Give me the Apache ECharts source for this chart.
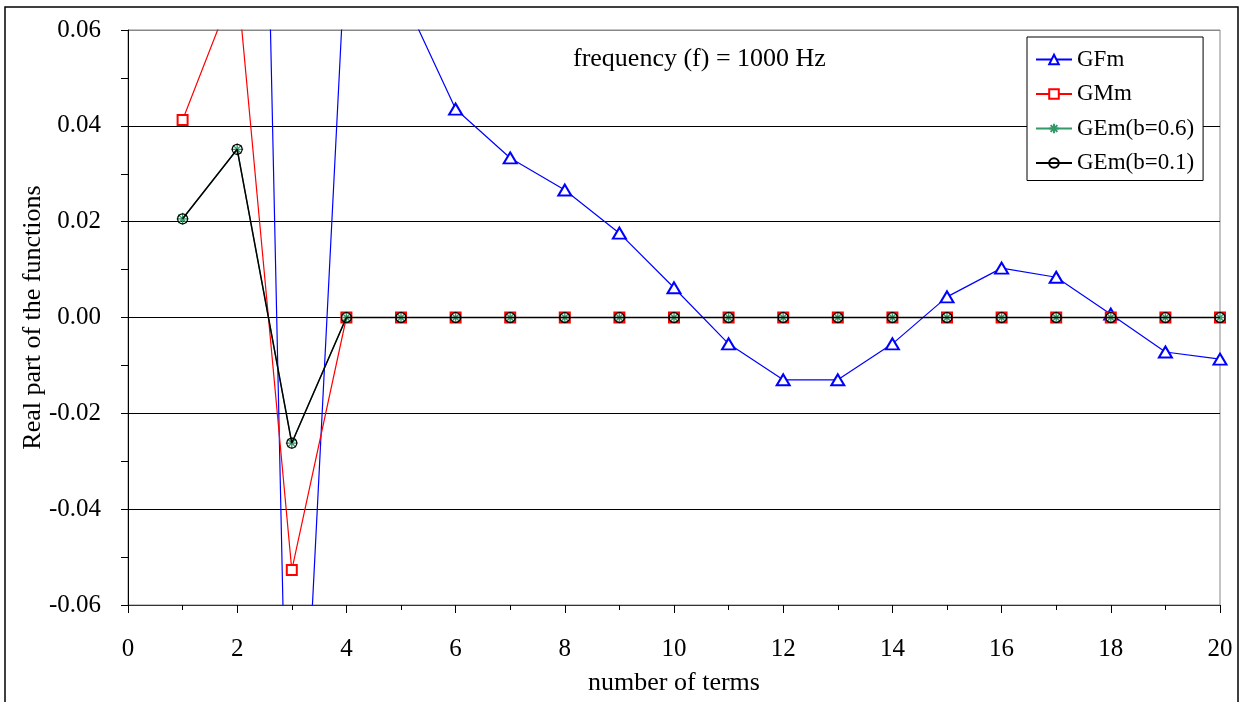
<!DOCTYPE html>
<html>
<head>
<meta charset="utf-8">
<script src="https://cdn.jsdelivr.net/npm/echarts@6/dist/echarts.min.js"></script>
<style>html,body{margin:0;padding:0;background:#fff}#c{width:1247px;height:702px}</style>
</head>
<body>
<div id="c"></div>
<script>
var terms = [1,2,3,4,5,6,7,8,9,10,11,12,13,14,15,16,17,18,19,20];
var GFm = [0.15,0.38,-0.145,0.08,0.068,0.0435,0.0333,0.0266,0.0176,0.0062,-0.0055,-0.0130,-0.0130,-0.0055,0.0043,0.0103,0.0084,0.0007,-0.0072,-0.0087];
var GMm = [0.0412,0.0705,-0.0527,0,0,0,0,0,0,0,0,0,0,0,0,0,0,0,0,0];
var GEm06 = [0.0206,0.0351,-0.0262,0,0,0,0,0,0,0,0,0,0,0,0,0,0,0,0,0];
var GEm01 = [0.0206,0.0351,-0.0262,0,0,0,0,0,0,0,0,0,0,0,0,0,0,0,0,0];
var seriesNames = ['GFm','GMm','GEm(b=0.6)','GEm(b=0.1)'];
var yTicks = [-0.06,-0.04,-0.02,0,0.02,0.04,0.06];

function pairs(vals){ return terms.map(function(t,i){ return [t, vals[i]]; }); }
var FONT = 'Liberation Serif';
var star = 'path://M5,0 L5,10 M0,5 L10,5 M1.5,1.5 L8.5,8.5 M8.5,1.5 L1.5,8.5';

var chart = echarts.init(document.getElementById('c'));
chart.setOption({
  animation: false,
  backgroundColor: '#fff',
  textStyle: {fontFamily: FONT},
  grid: {left: 128, right: 27, top: 30, bottom: 97, show: true, borderColor: '#888', borderWidth: 1},
  graphic: [
    {type: 'rect', shape: {x: 5, y: 7, width: 1233, height: 710}, style: {fill: 'none', stroke: '#000', lineWidth: 1.5}, silent: true},
    {type: 'text', left: 573, top: 46, style: {text: 'frequency (f) = 1000 Hz', font: '26px "Liberation Serif"', fill: '#000'}}
  ],
  legend: {
    orient: 'vertical', left: 1027, top: 37,
    padding: [11, 9, 6, 8],
    itemGap: 11.5, itemWidth: 36, itemHeight: 12,
    backgroundColor: '#fff', borderColor: '#000', borderWidth: 1,
    textStyle: {fontFamily: FONT, fontSize: 23, color: '#000'},
    data: seriesNames
  },
  xAxis: {
    type: 'value', min: 0, max: 20, interval: 2,
    name: 'number of terms', nameLocation: 'middle', nameGap: 65, nameMoveOverlap: false,
    nameTextStyle: {fontFamily: FONT, fontSize: 26, color: '#000'},
    axisLine: {onZero: false, lineStyle: {color: '#333', width: 1}},
    axisTick: {show: true, length: 8, lineStyle: {color: '#000'}},
    minorTick: {show: true, splitNumber: 2, length: 5, lineStyle: {color: '#000'}},
    axisLabel: {fontFamily: FONT, fontSize: 25, color: '#000', margin: 32},
    splitLine: {show: false}
  },
  yAxis: {
    type: 'value', min: -0.06, max: 0.06, interval: 0.02,
    name: 'Real part of the functions', nameLocation: 'middle', nameGap: 82, nameRotate: 90, nameMoveOverlap: false,
    nameTextStyle: {fontFamily: FONT, fontSize: 26, color: '#000'},
    axisLine: {show: true, onZero: false, lineStyle: {color: '#000', width: 1}},
    axisTick: {show: true, length: 7, lineStyle: {color: '#000'}},
    minorTick: {show: true, splitNumber: 2, length: 7, lineStyle: {color: '#000'}},
    axisLabel: {fontFamily: FONT, fontSize: 25, color: '#000', margin: 27,
      formatter: function(v){ return Math.abs(v) < 1e-9 ? '0.00' : v.toFixed(2); }},
    splitLine: {show: true, lineStyle: {color: ['#000','#000','#000','#000','#000','#000','#888'], width: 1}}
  },
  series: [
    {name: seriesNames[0], type: 'line', data: pairs(GFm), symbol: 'emptyTriangle', symbolSize: [13, 11],
      itemStyle: {color: '#0000ff', borderWidth: 1.2}, lineStyle: {color: '#0000ff', width: 1.2}, clip: true, z: 2},
    {name: seriesNames[1], type: 'line', data: pairs(GMm), symbol: 'emptyRect', symbolSize: 10,
      itemStyle: {color: '#ff0000', borderWidth: 1.2}, lineStyle: {color: '#ff0000', width: 1.2}, clip: true, z: 3},
    {name: seriesNames[2], type: 'line', data: pairs(GEm06), symbol: star, symbolSize: 12,
      itemStyle: {color: 'none', borderColor: '#339966', borderWidth: 1.3}, lineStyle: {color: '#339966', width: 1.2}, clip: true, z: 4},
    {name: seriesNames[3], type: 'line', data: pairs(GEm01), symbol: 'circle', symbolSize: 10,
      itemStyle: {color: 'rgba(0,0,0,0)', borderColor: '#000', borderWidth: 1.2}, lineStyle: {color: '#000', width: 1.5}, clip: true, z: 5}
  ]
});
</script>
</body>
</html>
